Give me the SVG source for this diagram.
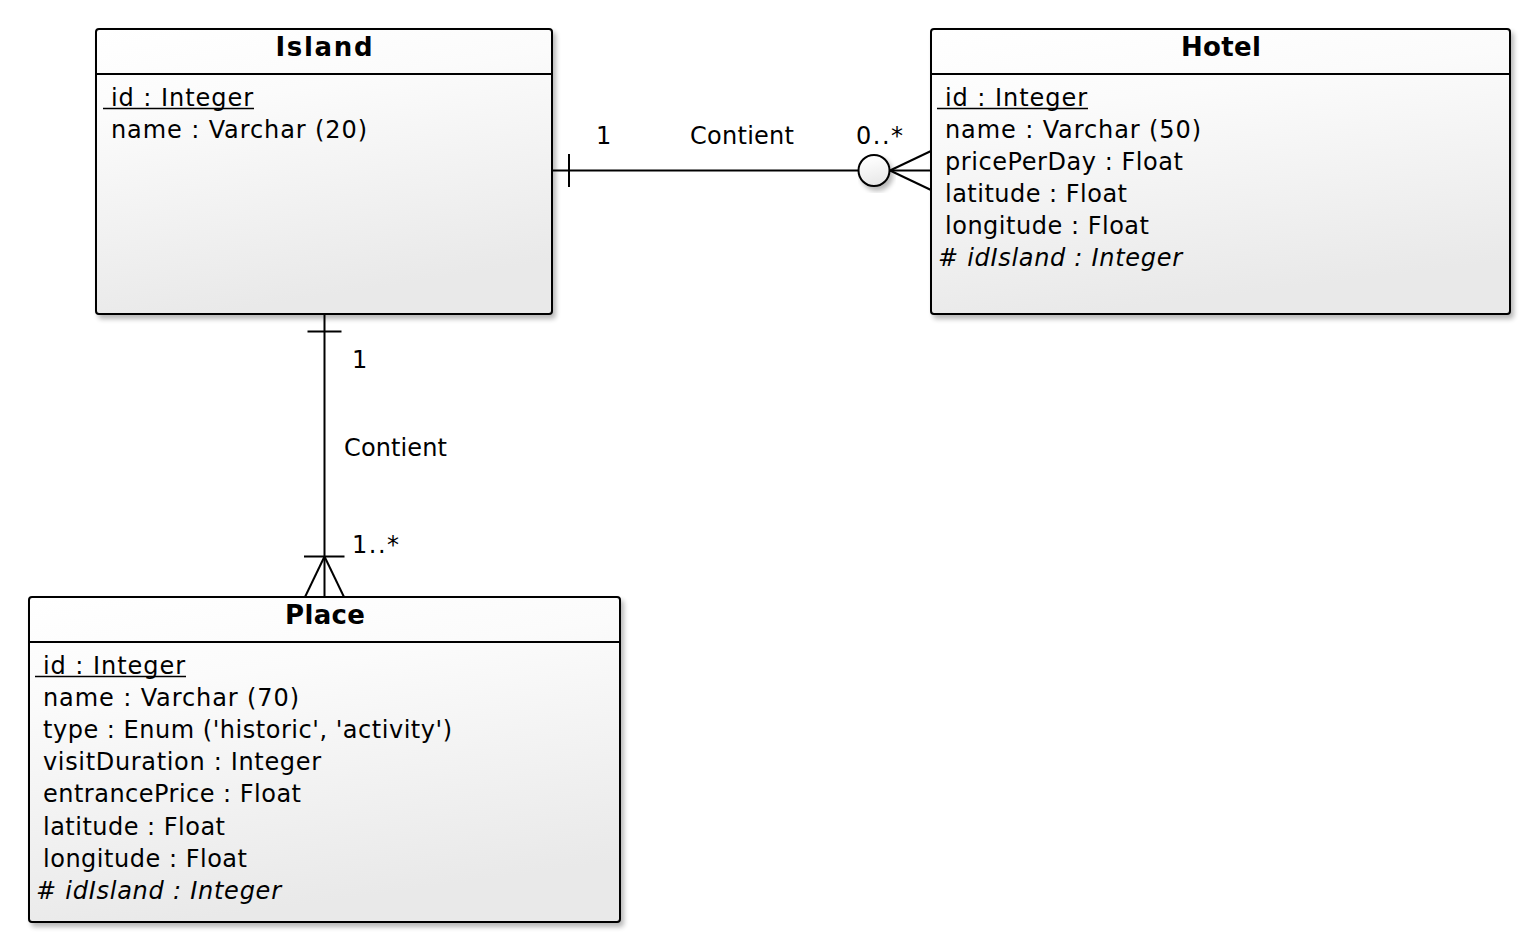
<svg xmlns="http://www.w3.org/2000/svg" width="1520" height="932" viewBox="0 0 1520 932">
<style>
.box{stroke:#000;stroke-width:2;fill:url(#bg)}
.sep{stroke:#000;stroke-width:1.8}
.title{font-family:"DejaVu Sans",Verdana,sans-serif;font-weight:bold;font-size:26px;fill:#000;text-anchor:middle}
.attr{font-family:"DejaVu Sans",Verdana,sans-serif;font-size:24px;fill:#000}
.it{font-style:italic}
.ul{stroke:#000;stroke-width:1.4}
.conn{stroke:#000;stroke-width:2;fill:none}
.lbl{font-family:"DejaVu Sans",Verdana,sans-serif;font-size:24px;fill:#000}
</style>
<defs>
<linearGradient id="bg" x1="0" y1="0" x2="0.25" y2="1">
<stop offset="0" stop-color="#ffffff"/>
<stop offset="0.3" stop-color="#fbfbfb"/>
<stop offset="1" stop-color="#e9e9e9"/>
</linearGradient>
<filter id="sh" x="-10%" y="-10%" width="130%" height="130%">
<feGaussianBlur in="SourceAlpha" stdDeviation="2.5"/>
<feOffset dx="3" dy="4" result="b"/>
<feComponentTransfer><feFuncA type="linear" slope="0.28"/></feComponentTransfer>
<feMerge><feMergeNode/><feMergeNode in="SourceGraphic"/></feMerge>
</filter>
</defs>
<rect width="1520" height="932" fill="#fff"/>

<g id="Island">
<rect class="box" x="96" y="29" width="456" height="285" rx="3" filter="url(#sh)"/>
<line class="sep" x1="96" y1="74" x2="552" y2="74"/>
<text class="title" x="324" y="56" textLength="97" lengthAdjust="spacing">Island</text>
<text class="attr" x="111" y="106" textLength="142" lengthAdjust="spacing">id : Integer</text>
<line class="ul" x1="103" y1="108.5" x2="254" y2="108.5"/>
<text class="attr" x="111" y="138" textLength="256" lengthAdjust="spacing">name : Varchar (20)</text>
</g>

<g id="Hotel">
<rect class="box" x="931" y="29" width="579" height="285" rx="3" filter="url(#sh)"/>
<line class="sep" x1="931" y1="74" x2="1510" y2="74"/>
<text class="title" x="1221" y="56" textLength="80" lengthAdjust="spacing">Hotel</text>
<text class="attr" x="945" y="106" textLength="142" lengthAdjust="spacing">id : Integer</text>
<line class="ul" x1="937" y1="108.5" x2="1088" y2="108.5"/>
<text class="attr" x="945" y="138" textLength="256" lengthAdjust="spacing">name : Varchar (50)</text>
<text class="attr" x="945" y="170" textLength="238" lengthAdjust="spacing">pricePerDay : Float</text>
<text class="attr" x="945" y="202" textLength="182" lengthAdjust="spacing">latitude : Float</text>
<text class="attr" x="945" y="234" textLength="204" lengthAdjust="spacing">longitude : Float</text>
<text class="attr it" x="938" y="266" textLength="244" lengthAdjust="spacing"># idIsland : Integer</text>
</g>

<g id="Place">
<rect class="box" x="29" y="597" width="591" height="325" rx="3" filter="url(#sh)"/>
<line class="sep" x1="29" y1="642" x2="620" y2="642"/>
<text class="title" x="325" y="624" textLength="80" lengthAdjust="spacing">Place</text>
<text class="attr" x="43" y="674" textLength="142" lengthAdjust="spacing">id : Integer</text>
<line class="ul" x1="35" y1="676.5" x2="186" y2="676.5"/>
<text class="attr" x="43" y="706" textLength="256" lengthAdjust="spacing">name : Varchar (70)</text>
<text class="attr" x="43" y="738" textLength="409" lengthAdjust="spacing">type : Enum ('historic', 'activity')</text>
<text class="attr" x="43" y="770" textLength="278" lengthAdjust="spacing">visitDuration : Integer</text>
<text class="attr" x="43" y="802" textLength="258" lengthAdjust="spacing">entrancePrice : Float</text>
<text class="attr" x="43" y="835" textLength="182" lengthAdjust="spacing">latitude : Float</text>
<text class="attr" x="43" y="867" textLength="204" lengthAdjust="spacing">longitude : Float</text>
<text class="attr it" x="36" y="899" textLength="245" lengthAdjust="spacing"># idIsland : Integer</text>
</g>

<g id="connectors">
<g id="island-hotel">
<line class="conn" x1="552" y1="170.5" x2="859" y2="170.5"/>
<line class="conn" x1="569" y1="154" x2="569" y2="187"/>
<circle cx="874" cy="170.5" r="15.5" fill="url(#bg)" stroke="#000" stroke-width="2" filter="url(#sh)"/>
<line class="conn" x1="890" y1="170.5" x2="931" y2="170.5"/>
<line class="conn" x1="890" y1="170.5" x2="931" y2="151"/>
<line class="conn" x1="890" y1="170.5" x2="931" y2="190"/>
<text class="lbl" x="596" y="144" textLength="11" lengthAdjust="spacing">1</text>
<text class="lbl" x="690" y="144" textLength="104" lengthAdjust="spacing">Contient</text>
<text class="lbl" x="856" y="144" textLength="47" lengthAdjust="spacing">0..*</text>
</g>
<g id="island-place">
<line class="conn" x1="324.5" y1="314" x2="324.5" y2="597"/>
<line class="conn" x1="307.5" y1="331.5" x2="341.5" y2="331.5"/>
<line class="conn" x1="304" y1="556.5" x2="344.5" y2="556.5"/>
<line class="conn" x1="324.5" y1="556.5" x2="305" y2="597"/>
<line class="conn" x1="324.5" y1="556.5" x2="344" y2="597"/>
<text class="lbl" x="352" y="368" textLength="11" lengthAdjust="spacing">1</text>
<text class="lbl" x="344" y="456" textLength="103" lengthAdjust="spacing">Contient</text>
<text class="lbl" x="352" y="553" textLength="47" lengthAdjust="spacing">1..*</text>
</g>
</g>
</svg>
